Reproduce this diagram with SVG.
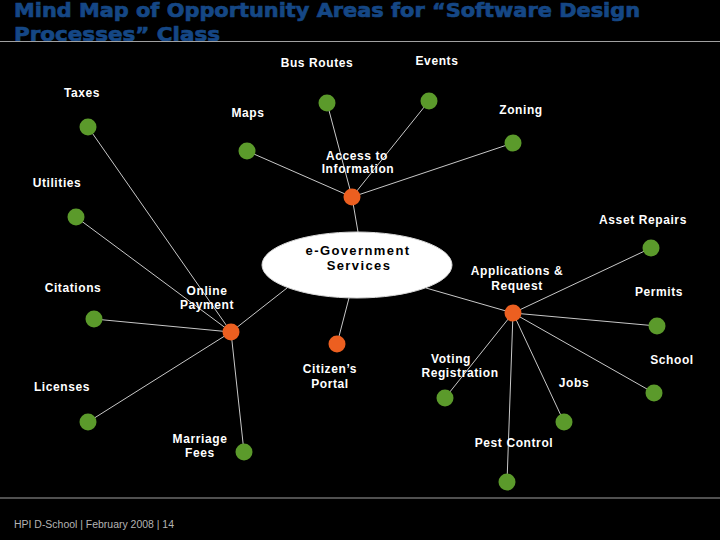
<svg xmlns="http://www.w3.org/2000/svg" width="720" height="540" viewBox="0 0 720 540">
<style>
.title{font-family:"DejaVu Sans","Liberation Sans",Arial,sans-serif;font-weight:bold;font-size:19.5px;fill:#154785;stroke:#154785;stroke-width:0.7px}
.lbl{font-family:"Liberation Sans",Arial,sans-serif;font-weight:bold;font-size:12px;fill:#ffffff;letter-spacing:0.6px;text-anchor:middle}
.hub{font-family:"Liberation Sans",Arial,sans-serif;font-weight:bold;font-size:13px;fill:#000000;letter-spacing:1.4px;text-anchor:middle}
.foot{font-family:"Liberation Sans",Arial,sans-serif;font-size:10px;fill:#b4b4b4}
.leaf{fill:#5b9a2b}
.mid{fill:#ec5f20}
.conn line{stroke:#c8c8c8;stroke-width:1}
.rule{stroke:#a0a0a0;stroke-width:1.2}
</style>
<rect x="0" y="0" width="720" height="540" fill="#000000"/>
<text class="title" x="14" y="16.5" textLength="626" lengthAdjust="spacingAndGlyphs">Mind Map of Opportunity Areas for “Software Design</text>
<text class="title" x="14" y="40.5" textLength="206" lengthAdjust="spacingAndGlyphs">Processes” Class</text>
<line class="rule" x1="0" y1="41.5" x2="720" y2="41.5"/>
<line class="rule" x1="0" y1="498" x2="720" y2="498"/>
<text class="foot" x="14" y="528" textLength="160" lengthAdjust="spacingAndGlyphs">HPI D-School | February 2008 | 14</text>

<g id="connectors" class="conn">
<line x1="352" y1="197" x2="358" y2="232"/>
<line x1="231" y1="332" x2="287" y2="288"/>
<line x1="337" y1="344" x2="349" y2="298"/>
<line x1="513" y1="313" x2="426" y2="288"/>
<line x1="352" y1="197" x2="247" y2="151"/>
<line x1="352" y1="197" x2="327" y2="103"/>
<line x1="352" y1="197" x2="429" y2="101"/>
<line x1="352" y1="197" x2="513" y2="143"/>
<line x1="231" y1="332" x2="88" y2="127"/>
<line x1="231" y1="332" x2="76" y2="217"/>
<line x1="231" y1="332" x2="94" y2="319"/>
<line x1="231" y1="332" x2="88" y2="422"/>
<line x1="231" y1="332" x2="244" y2="452"/>
<line x1="513" y1="313" x2="651" y2="248"/>
<line x1="513" y1="313" x2="657" y2="326"/>
<line x1="513" y1="313" x2="654" y2="393"/>
<line x1="513" y1="313" x2="445" y2="398"/>
<line x1="513" y1="313" x2="564" y2="422"/>
<line x1="513" y1="313" x2="507" y2="482"/>
</g>

<g id="egov">
<ellipse cx="357" cy="265" rx="95" ry="33" fill="#ffffff" stroke="#d8d8d8" stroke-width="1"/>
<text class="hub" x="358" y="255">e-Government</text>
<text class="hub" x="359" y="270">Services</text>
</g>

<g id="access">
<circle class="mid" cx="352" cy="197" r="8.5"/>
<text class="lbl" x="357" y="160">Access to</text>
<text class="lbl" x="358" y="173">Information</text>
</g>
<g id="online">
<circle class="mid" cx="231" cy="332" r="8.5"/>
<text class="lbl" x="207" y="295">Online</text>
<text class="lbl" x="207" y="309">Payment</text>
</g>
<g id="citizen">
<circle class="mid" cx="337" cy="344" r="8.5"/>
<text class="lbl" x="330" y="373">Citizen’s</text>
<text class="lbl" x="330" y="388">Portal</text>
</g>
<g id="apps">
<circle class="mid" cx="513" cy="313" r="8.5"/>
<text class="lbl" x="517" y="275">Applications &amp;</text>
<text class="lbl" x="517" y="290">Request</text>
</g>

<g id="maps"><circle class="leaf" cx="247" cy="151" r="8.5"/><text class="lbl" x="248" y="117">Maps</text></g>
<g id="busroutes"><circle class="leaf" cx="327" cy="103" r="8.5"/><text class="lbl" x="317" y="67">Bus Routes</text></g>
<g id="events"><circle class="leaf" cx="429" cy="101" r="8.5"/><text class="lbl" x="437" y="65">Events</text></g>
<g id="zoning"><circle class="leaf" cx="513" cy="143" r="8.5"/><text class="lbl" x="521" y="114">Zoning</text></g>
<g id="taxes"><circle class="leaf" cx="88" cy="127" r="8.5"/><text class="lbl" x="82" y="97">Taxes</text></g>
<g id="utilities"><circle class="leaf" cx="76" cy="217" r="8.5"/><text class="lbl" x="57" y="187">Utilities</text></g>
<g id="citations"><circle class="leaf" cx="94" cy="319" r="8.5"/><text class="lbl" x="73" y="292">Citations</text></g>
<g id="licenses"><circle class="leaf" cx="88" cy="422" r="8.5"/><text class="lbl" x="62" y="391">Licenses</text></g>
<g id="marriage"><circle class="leaf" cx="244" cy="452" r="8.5"/><text class="lbl" x="200" y="443">Marriage</text><text class="lbl" x="200" y="457">Fees</text></g>
<g id="asset"><circle class="leaf" cx="651" cy="248" r="8.5"/><text class="lbl" x="643" y="224">Asset Repairs</text></g>
<g id="permits"><circle class="leaf" cx="657" cy="326" r="8.5"/><text class="lbl" x="659" y="296">Permits</text></g>
<g id="school"><circle class="leaf" cx="654" cy="393" r="8.5"/><text class="lbl" x="672" y="364">School</text></g>
<g id="voting"><circle class="leaf" cx="445" cy="398" r="8.5"/><text class="lbl" x="451" y="363">Voting</text><text class="lbl" x="460" y="377">Registration</text></g>
<g id="jobs"><circle class="leaf" cx="564" cy="422" r="8.5"/><text class="lbl" x="574" y="387">Jobs</text></g>
<g id="pest"><circle class="leaf" cx="507" cy="482" r="8.5"/><text class="lbl" x="514" y="447">Pest Control</text></g>
</svg>
